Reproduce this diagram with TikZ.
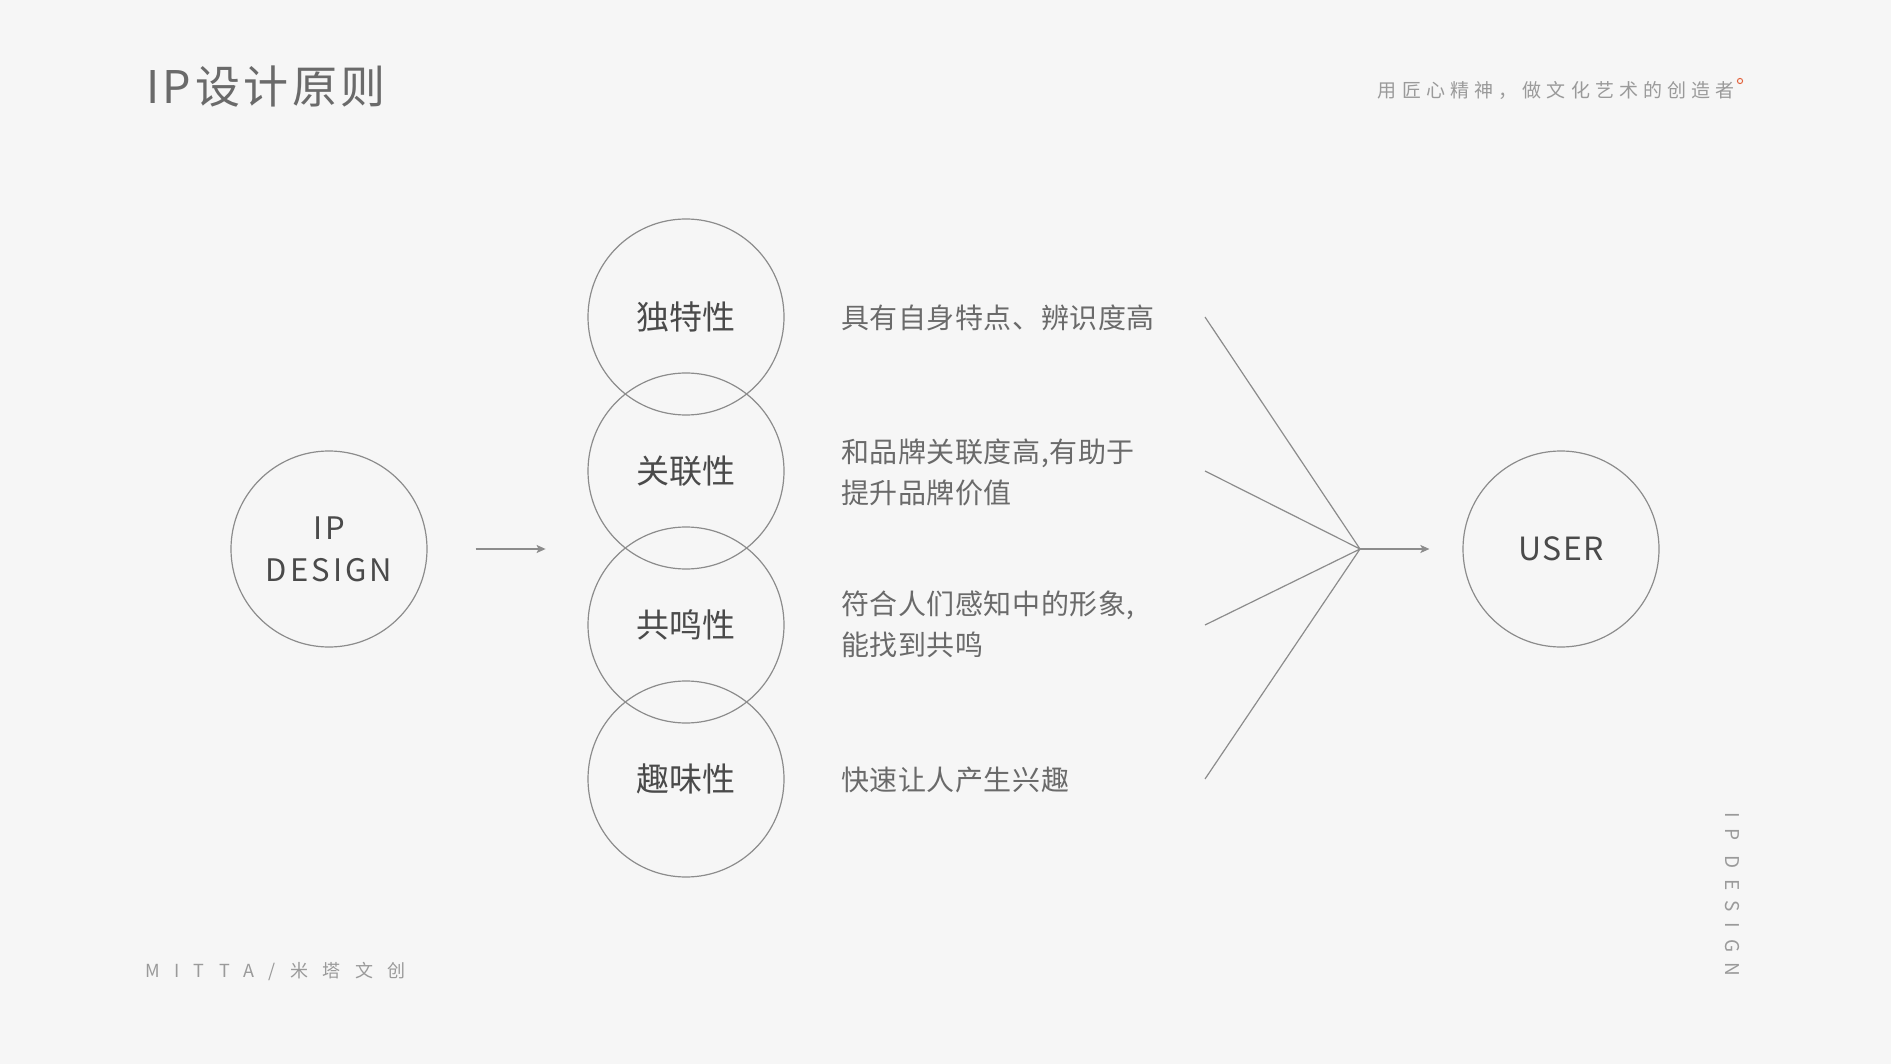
\documentclass[tikz,border=0pt]{standalone}
\usepackage{fontspec}
\setmainfont{Noto Sans CJK SC}
\usetikzlibrary{arrows.meta}
\definecolor{bgcol}{HTML}{F6F6F6}
\definecolor{linecol}{HTML}{8C8C8C}
\definecolor{darktext}{HTML}{4A4A4A}
\definecolor{midtext}{HTML}{6A6A6A}
\definecolor{lighttext}{HTML}{9A9A9A}
\definecolor{dotcol}{HTML}{E2643E}
\begin{document}
\begin{tikzpicture}[x=1pt,y=-1pt,>={Stealth[length=9pt,width=8pt,inset=2pt]},
  ring/.style={circle,draw=linecol,line width=1.2pt,minimum size=196pt,inner sep=0pt},
  ringtext/.style={ring,text=darktext,font=\fontsize{33}{36}\selectfont},
  desc/.style={anchor=west,inner sep=0pt,align=left,text=midtext,font=\fontsize{28}{41}\selectfont\addfontfeature{LetterSpace=2}},
  conn/.style={draw=linecol,line width=1.2pt}]
\fill[bgcol] (0,0) rectangle (1891,1064);
\useasboundingbox (0,0) rectangle (1891,1064);
\node[anchor=west,inner sep=0pt,text=midtext,font=\fontsize{45}{48}\selectfont\addfontfeature{LetterSpace=8}] (title) at (146,87) {IP设计原则};
\node[anchor=east,inner sep=0pt,text=lighttext,font=\fontsize{19}{22}\selectfont\addfontfeature{LetterSpace=27}] (motto) at (1735,90) {用匠心精神，做文化艺术的创造者};
\draw[dotcol,line width=1pt] (1740,81) circle (2.6);
\node[anchor=west,inner sep=0pt,text=lighttext,font=\fontsize{18}{20}\selectfont\addfontfeature{LetterSpace=80}] (brand) at (145,971) {MITTA/米塔文创};
\node[anchor=west,rotate=-90,inner sep=0pt,text=lighttext,font=\fontsize{19}{20}\selectfont\addfontfeature{LetterSpace=56}] (side) at (1732,812) {IP DESIGN};
\node[ringtext,align=center,font=\fontsize{31}{42}\selectfont\addfontfeature{LetterSpace=10}] (ipd) at (329,549) {IP\\DESIGN};
\node[ringtext] (uniq) at (686,317) {独特性};
\node[ringtext] (rel) at (686,471) {关联性};
\node[ringtext] (reso) at (686,625) {共鸣性};
\node[ringtext] (fun) at (686,779) {趣味性};
\node[ringtext,font=\fontsize{32}{36}\selectfont\addfontfeature{LetterSpace=5}] (user) at (1561,549) {USER};
\node[desc] (d1) at (841,318) {具有自身特点、辨识度高};
\node[desc] (d2) at (841,472) {和品牌关联度高,有助于\\提升品牌价值};
\node[desc] (d3) at (841,624) {符合人们感知中的形象,\\能找到共鸣};
\node[desc] (d4) at (841,780) {快速让人产生兴趣};
\coordinate (s1) at (1205,317);
\coordinate (s2) at (1205,471);
\coordinate (s3) at (1205,625);
\coordinate (s4) at (1205,779);
\coordinate (j) at (1360,549);
\draw[conn,->] ([xshift=48pt]ipd.east) -- ([xshift=118pt]ipd.east);
\draw[conn] (s1) -- (j) (s2) -- (j) (s3) -- (j) (s4) -- (j);
\draw[conn,->] (j) -- ([xshift=-33pt]user.west);
\end{tikzpicture}
\end{document}
